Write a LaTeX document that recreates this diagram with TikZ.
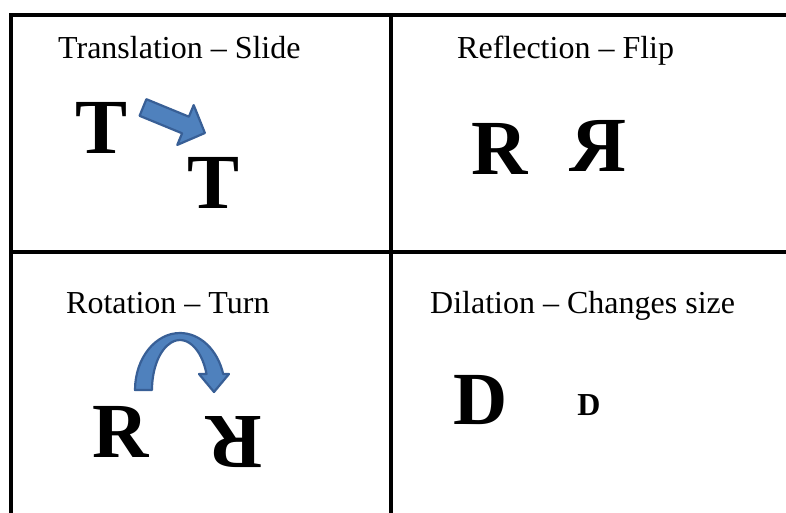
\documentclass[tikz,border=0pt]{standalone}
\usepackage{fontspec}
\setmainfont{Liberation Serif}
\definecolor{arrowfill}{HTML}{4F81BD}
\definecolor{arrowline}{HTML}{385F96}
\tikzset{
  gridline/.style={line width=4pt, line join=miter, black},
  caption/.style={anchor=base west, inner sep=0pt, font=\fontsize{32}{38}\selectfont},
  bigletter/.style={inner sep=0pt, font=\fontsize{78}{90}\selectfont\bfseries},
  blockarrow/.style={fill=arrowfill, draw=arrowline, line width=2.2pt, line join=round},
}
\begin{document}
\begin{tikzpicture}[x=1pt,y=-1pt]
\useasboundingbox (0,0) rectangle (786,512);
\fill[white] (0,0) rectangle (786,512);
% grid
\draw[gridline] (10.5,516) -- (10.5,14.5) -- (792,14.5);
\draw[gridline] (391,14.5) -- (391,516);
\draw[gridline] (10.5,251.5) -- (792,251.5);
% captions
\node[caption] (c1) at (58,58) {Translation – Slide};
\node[caption] (c2) at (457,58) {Reflection – Flip};
\node[caption] (c3) at (66,313) {Rotation – Turn};
\node[caption] (c4) at (430,313) {Dilation – Changes size};
% translation
\node[bigletter, anchor=base] (t1) at (101.5,153) {T};
\node[bigletter, anchor=base] (t2) at (213.5,208) {T};
\draw[blockarrow] (146.4,99.2) -- (188.9,116.7) -- (193.7,105.1) -- (204.9,133)
  -- (177.3,144.9) -- (182.1,133.3) -- (139.6,115.8) -- cycle;
% reflection
\node[bigletter, anchor=base] (r1) at (499.5,174) {R};
\node[bigletter, anchor=base] (r2) at (598.5,171) {\scalebox{-1}[1]{R}};
% rotation
\node[bigletter, anchor=base] (r3) at (120.5,457) {R};
\node[bigletter, rotate=180] (r4) at (234,442.5) {R};
\draw[blockarrow] (135,390) arc[start angle=180, end angle=343.7, x radius=45, y radius=57]
  -- (229,374) -- (214,392) -- (199,374) -- (206.5,374)
  arc[start angle=341.3, end angle=180, x radius=28, y radius=50] -- cycle;
% dilation
\node[bigletter, anchor=base, font=\fontsize{75}{88}\selectfont\bfseries] (d1) at (481,424) {D};
\node[bigletter, anchor=base, font=\fontsize{32}{38}\selectfont\bfseries] (d2) at (589,415) {D};
\end{tikzpicture}
\end{document}
